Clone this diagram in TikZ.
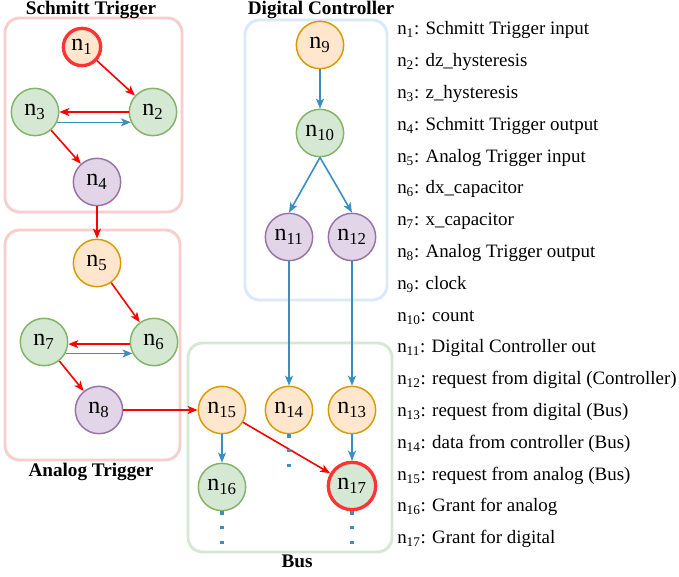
\documentclass[tikz,border=0pt]{standalone}
\usepackage{fontspec}
\setmainfont{Liberation Serif}
\usetikzlibrary{arrows.meta}

\definecolor{orfill}{HTML}{FFE6CC}
\definecolor{ordraw}{HTML}{D79B00}
\definecolor{grfill}{HTML}{D5E8D4}
\definecolor{grdraw}{HTML}{82B366}
\definecolor{pufill}{HTML}{E1D5E7}
\definecolor{pudraw}{HTML}{9673A6}
\definecolor{hotred}{HTML}{FF3333}
\definecolor{arred}{HTML}{FF0000}
\definecolor{arblue}{HTML}{3B8EC2}
\definecolor{pinkline}{HTML}{F8CECC}
\definecolor{blueline}{HTML}{DAE8FC}
\definecolor{greenline}{HTML}{D5E8D4}

\begin{document}
\begin{tikzpicture}[x=0.75pt, y=-0.75pt,
    st/.style={circle, minimum size=35.5pt, inner sep=0pt, line width=1.1pt,
        font=\fontsize{18}{20}\selectfont},
    inp/.style={st, fill=orfill, draw=ordraw},
    mid/.style={st, fill=grfill, draw=grdraw},
    outp/.style={st, fill=pufill, draw=pudraw},
    hot/.style={line width=2.5pt, draw=hotred},
    ra/.style={-{Stealth[length=7.5pt, width=6pt, inset=2pt]}, line width=1.2pt, arred},
    ba/.style={-{Stealth[length=7.5pt, width=6pt, inset=2pt]}, line width=1.2pt, arblue},
    grp/.style={rounded corners=11pt, line width=2.2pt},
    title/.style={font=\bfseries\fontsize{14.4}{17}\selectfont},
    legend/.style={anchor=base west, inner sep=0pt, font=\fontsize{14.2}{17}\selectfont},
    more/.style={arblue, line width=2.5pt, dash pattern=on 2.5pt off 8.5pt}]

    \useasboundingbox (0,0) rectangle (679,577);

    % groups
    \draw[grp, draw=pinkline] (5,18) rectangle (182,212);
    \draw[grp, draw=pinkline] (5,230) rectangle (180,460);
    \draw[grp, draw=blueline] (245,20) rectangle (387,300);
    \draw[grp, draw=greenline] (188,343) rectangle (392,552);
    \node[title] (tschmitt) at (91,10) {Schmitt Trigger};
    \node[title] (tanalog) at (91,472) {Analog Trigger};
    \node[title] (tdigital) at (321,10) {Digital Controller};
    \node[title] (tbus) at (297,561) {Bus};

    % Schmitt Trigger
    \node[inp, hot, minimum size=28pt] (n1) at (82,47) {n\textsubscript{1}};
    \node[mid] (n2) at (153,112) {n\textsubscript{2}};
    \node[mid] (n3) at (35,112) {n\textsubscript{3}};
    \node[outp] (n4) at (97,182) {n\textsubscript{4}};

    % Analog Trigger
    \node[inp] (n5) at (97,263) {n\textsubscript{5}};
    \node[mid] (n6) at (154,342) {n\textsubscript{6}};
    \node[mid] (n7) at (44,342) {n\textsubscript{7}};
    \node[outp] (n8) at (99,410) {n\textsubscript{8}};

    % Digital Controller
    \node[inp] (n9) at (320,45) {n\textsubscript{9}};
    \node[mid] (n10) at (320,133) {n\textsubscript{10}};
    \node[outp] (n11) at (289,237) {n\textsubscript{11}};
    \node[outp] (n12) at (352,237) {n\textsubscript{12}};

    % Bus
    \node[inp] (n13) at (352,410) {n\textsubscript{13}};
    \node[inp] (n14) at (289,410) {n\textsubscript{14}};
    \node[inp] (n15) at (222,410) {n\textsubscript{15}};
    \node[mid] (n16) at (222,487) {n\textsubscript{16}};
    \node[mid, hot] (n17) at (352,486) {n\textsubscript{17}};

    \draw[ra] (n1) -- (n2);
    \draw[ra] (n2.west) -- (n3.east);
    \draw[ba] (n3.-25) -- (n2.205);
    \draw[ra] (n3) -- (n4);
    \draw[ra] (n4) -- (n5);
    \draw[ra] (n5) -- (n6);
    \draw[ra] (n6.185) -- (n7.-5);
    \draw[ba] (n7.-28) -- (n6.208);
    \draw[ra] (n7) -- (n8);
    \draw[ra] (n8) -- (n15);
    \draw[ra] (n15) -- (n17);

    \draw[ba] (n9) -- (n10);
    \draw[ba] (n10.south) -- (n11.north);
    \draw[ba] (n10.south) -- (n12.north);
    \draw[ba] (n11) -- (n14);
    \draw[ba] (n12) -- (n13);
    \draw[ba] (n13) -- (n17);
    \draw[ba] (n15) -- (n16);

    % continued
    \coordinate (e14) at (289,468);
    \coordinate (e16) at (222,546);
    \coordinate (e17) at (352,546);
    \draw[more] (n14.south) -- (e14);
    \draw[more] (n16.south) -- (e16);
    \draw[more] (n17.south) -- (e17);

    % legend
    \foreach \i/\txt in {1/Schmitt Trigger input, 2/dz\_hysteresis, 3/z\_hysteresis,
        4/Schmitt Trigger output, 5/Analog Trigger input, 6/dx\_capacitor,
        7/x\_capacitor, 8/Analog Trigger output, 9/clock, 10/count,
        11/Digital Controller out, 12/request from digital (Controller),
        13/request from digital (Bus), 14/data from controller (Bus),
        15/request from analog (Bus), 16/Grant for analog, 17/Grant for digital}
        \node[legend] (l\i) at (397, {35+(\i-1)*31.8}) {n\textsubscript{\i}: \txt};
\end{tikzpicture}
\end{document}
